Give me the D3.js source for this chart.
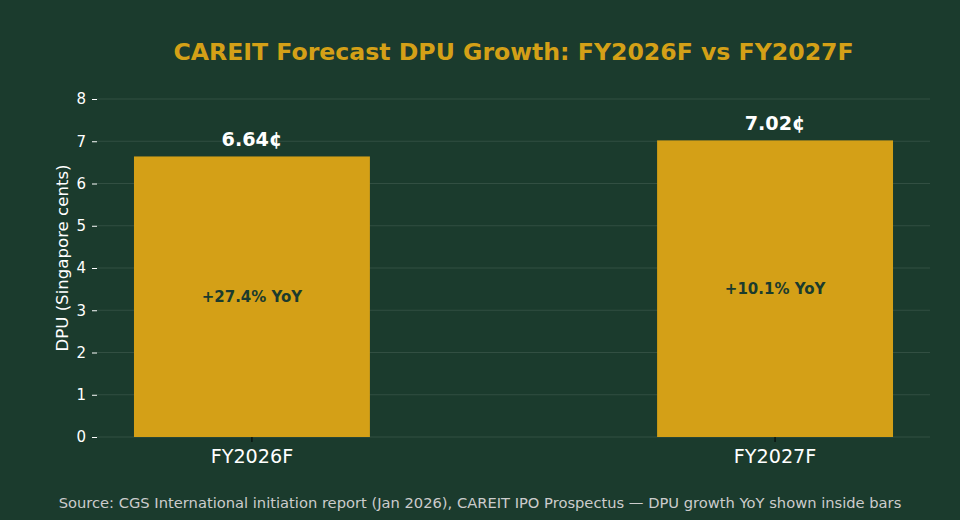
<!DOCTYPE html>
<html>
<head>
<meta charset="utf-8">
<script src="https://cdn.jsdelivr.net/npm/d3@7"></script>
<style>
  body { margin: 0; background: #1b3b2d; }
  svg { display: block; font-family: "DejaVu Sans", sans-serif; }
</style>
</head>
<body>
<div id="chart"></div>
<script>
// chart data
const categories = ["FY2026F", "FY2027F"];
const dpuValues = [6.64, 7.02];
const yoyLabels = ["+27.4% YoY", "+10.1% YoY"];
const yTicks = [0, 1, 2, 3, 4, 5, 6, 7, 8];

const width = 960, height = 520;
const margin = {top: 99, right: 30, bottom: 83, left: 97};
const plot_w = width - margin.left - margin.right;
const plot_h = height - margin.top - margin.bottom;

const bg = "#1b3b2d";
const gold = "#d4a017";

const svg = d3.select("#chart").append("svg")
    .attr("width", width)
    .attr("height", height);

svg.append("rect").attr("width", width).attr("height", height).attr("fill", bg);

const g = svg.append("g")
    .attr("transform", "translate(" + margin.left + "," + margin.top + ")");

// scales
const x = d3.scaleBand()
    .domain(categories)
    .range([0, plot_w])
    .paddingInner(0.549)
    .paddingOuter(0.0707);

const y = d3.scaleLinear()
    .domain([0, 8])
    .range([plot_h, 0]);

// grid lines
g.selectAll(".grid")
    .data(yTicks)
    .enter()
    .append("line")
    .attr("x1", 0)
    .attr("x2", plot_w)
    .attr("y1", d => y(d))
    .attr("y2", d => y(d))
    .attr("stroke", "#ffffff")
    .attr("stroke-opacity", 0.1)
    .attr("stroke-width", 1);

// bars
g.selectAll(".bar")
    .data(dpuValues)
    .enter()
    .append("rect")
    .attr("x", (d, i) => x(categories[i]))
    .attr("width", x.bandwidth())
    .attr("y", d => y(d))
    .attr("height", d => plot_h - y(d))
    .attr("fill", gold);

// value labels above bars
g.selectAll(".val")
    .data(dpuValues)
    .enter()
    .append("text")
    .attr("x", (d, i) => x(categories[i]) + x.bandwidth() / 2)
    .attr("y", d => y(d) - 10.5)
    .attr("text-anchor", "middle")
    .attr("fill", "#ffffff")
    .attr("font-size", 19.2)
    .attr("font-weight", "bold")
    .text(d => d.toFixed(2) + "¢");

// YoY labels inside bars
g.selectAll(".yoy")
    .data(dpuValues)
    .enter()
    .append("text")
    .attr("x", (d, i) => x(categories[i]) + x.bandwidth() / 2)
    .attr("y", d => y(d / 2))
    .attr("dy", "0.35em")
    .attr("text-anchor", "middle")
    .attr("fill", bg)
    .attr("font-size", 15)
    .attr("font-weight", "bold")
    .text((d, i) => yoyLabels[i]);

// y axis
const yAxis = g.append("g")
    .call(d3.axisLeft(y).tickValues(yTicks).tickSize(5).tickPadding(6));
yAxis.select(".domain").remove();
yAxis.selectAll(".tick line").attr("stroke", "#ffffff");
yAxis.selectAll(".tick text")
    .attr("fill", "#ffffff")
    .attr("font-size", 15)
    .attr("font-family", "DejaVu Sans, sans-serif");

// x axis
const xAxis = g.append("g")
    .attr("transform", "translate(0," + plot_h + ")")
    .call(d3.axisBottom(x).tickSize(5).tickPadding(7));
xAxis.select(".domain").remove();
xAxis.selectAll(".tick line").attr("stroke", "#000000");
xAxis.selectAll(".tick text")
    .attr("fill", "#ffffff")
    .attr("font-size", 19.2)
    .attr("font-family", "DejaVu Sans, sans-serif");

// y axis label
svg.append("text")
    .attr("transform", "translate(68,258) rotate(-90)")
    .attr("text-anchor", "middle")
    .attr("fill", "#ffffff")
    .attr("font-size", 16.6)
    .text("DPU (Singapore cents)");

// title
svg.append("text")
    .attr("x", margin.left + plot_w / 2)
    .attr("y", 60)
    .attr("text-anchor", "middle")
    .attr("fill", gold)
    .attr("font-size", 23.6)
    .attr("font-weight", "bold")
    .text("CAREIT Forecast DPU Growth: FY2026F vs FY2027F");

// source note
svg.append("text")
    .attr("x", width / 2)
    .attr("y", 508)
    .attr("text-anchor", "middle")
    .attr("fill", "#cccccc")
    .attr("font-size", 14.7)
    .text("Source: CGS International initiation report (Jan 2026), CAREIT IPO Prospectus — DPU growth YoY shown inside bars");
</script>
</body>
</html>
